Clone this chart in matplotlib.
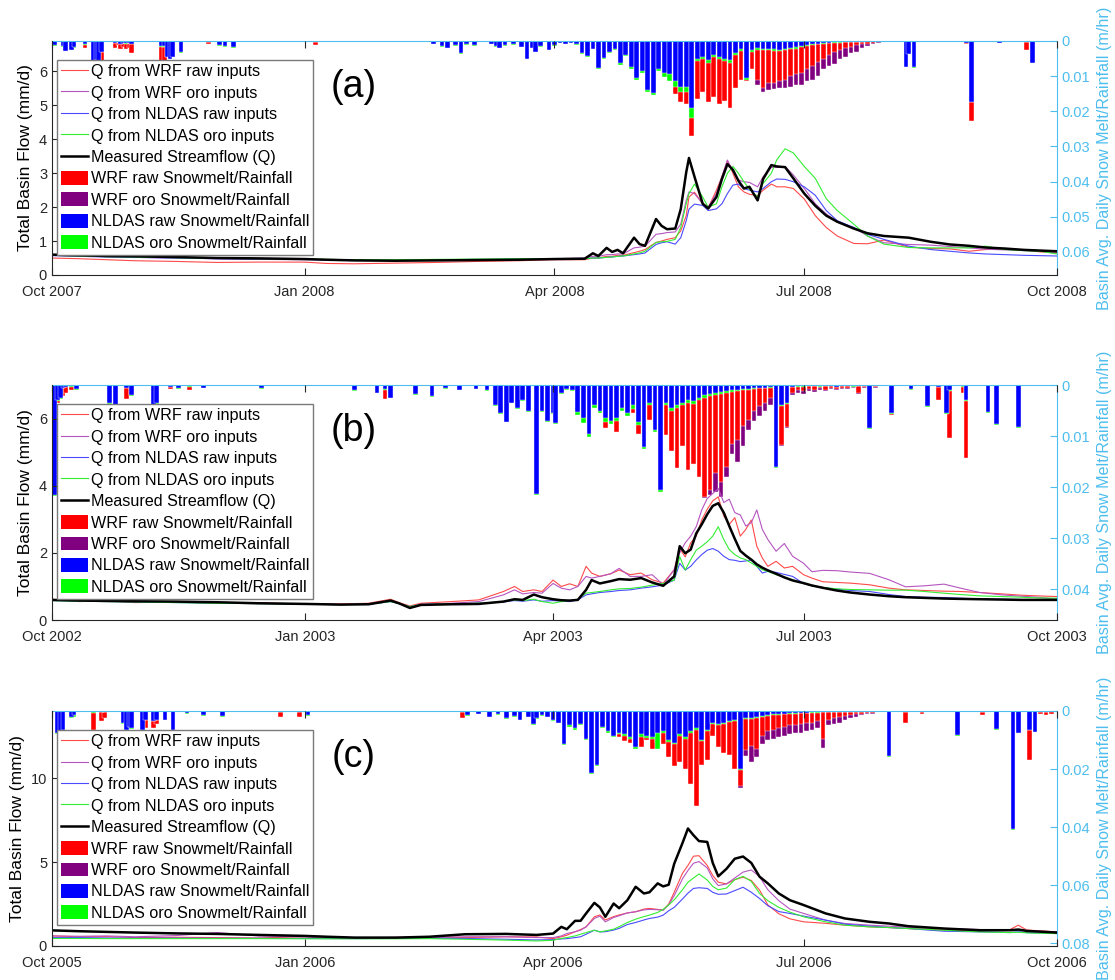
import matplotlib
matplotlib.use("Agg")
import matplotlib.pyplot as plt
import matplotlib.dates as mdates
import pandas as pd
from matplotlib.lines import Line2D
from matplotlib.patches import Patch

plt.rcParams['font.family'] = ['Liberation Sans', 'DejaVu Sans']

# ---------------- streamflow (mm/d), days counted from 1 Oct ----------------
q_days_a = [0, 10, 20, 30, 45, 60, 75, 92, 100, 110, 125, 140, 155, 170, 183, 194, 197, 199, 202, 204,
            206, 208, 212, 214, 216, 220, 222, 224, 227, 229, 231, 232, 234, 237, 239, 242, 244, 246, 248, 250,
            252, 254, 257, 259, 262, 264, 267, 270, 274, 278, 282, 286, 292, 297, 303, 312, 320, 327, 334, 340,
            347, 354, 360, 366]
q_meas_a = [0.6, 0.58, 0.56, 0.55, 0.53, 0.5, 0.49, 0.47, 0.45, 0.43, 0.42, 0.43, 0.44, 0.45, 0.47, 0.48, 0.64, 0.56, 0.8, 0.68,
            0.74, 0.64, 1.1, 0.91, 0.86, 1.65, 1.45, 1.35, 1.37, 1.94, 3.03, 3.45, 2.9, 2.1, 1.96, 2.3, 2.83, 3.27, 3.1, 2.78,
            2.55, 2.6, 2.2, 2.83, 3.24, 3.2, 3.18, 2.85, 2.4, 2.04, 1.75, 1.57, 1.37, 1.23, 1.15, 1.1, 0.98, 0.9, 0.86, 0.81,
            0.78, 0.74, 0.72, 0.7]
q_wrf_raw_a = [0.5, 0.48, 0.45, 0.42, 0.4, 0.37, 0.38, 0.38, 0.34, 0.33, 0.35, 0.37, 0.4, 0.42, 0.45, 0.45, 0.5, 0.5, 0.55, 0.55,
               0.58, 0.58, 0.66, 0.7, 0.75, 0.96, 1.0, 1.05, 1.1, 1.3, 1.75, 2.3, 2.44, 2.1, 1.98, 2.5, 2.9, 3.37, 3.0, 2.6,
               2.45, 2.38, 2.34, 2.5, 2.68, 2.6, 2.6, 2.55, 2.24, 1.75, 1.4, 1.15, 0.93, 0.92, 1.03, 0.82, 0.78, 0.77, 0.7, 0.75,
               0.76, 0.74, 0.68, 0.66]
q_wrf_oro_a = [0.58, 0.56, 0.54, 0.52, 0.5, 0.48, 0.46, 0.45, 0.44, 0.43, 0.43, 0.44, 0.45, 0.46, 0.48, 0.5, 0.55, 0.55, 0.6, 0.6,
               0.62, 0.62, 0.8, 0.82, 0.85, 1.2, 1.22, 1.25, 1.27, 1.5, 2.2, 2.45, 2.4, 2.1, 2.0, 2.4, 2.9, 3.39, 3.05, 2.8,
               2.75, 2.73, 2.6, 2.9, 3.17, 3.17, 3.2, 2.95, 2.55, 2.1, 1.8, 1.57, 1.4, 1.15, 0.95, 0.9, 0.88, 0.84, 0.8, 0.76,
               0.74, 0.72, 0.7, 0.64]
q_nldas_raw_a = [0.57, 0.55, 0.53, 0.52, 0.5, 0.48, 0.47, 0.46, 0.45, 0.44, 0.44, 0.45, 0.46, 0.47, 0.48, 0.48, 0.5, 0.5, 0.52, 0.53,
                 0.55, 0.56, 0.6, 0.62, 0.65, 0.9, 0.95, 0.98, 0.91, 1.1, 1.6, 1.94, 2.09, 2.05, 1.9, 1.95, 2.1, 2.4, 2.65, 2.68,
                 2.55, 2.5, 2.45, 2.55, 2.75, 2.83, 2.82, 2.75, 2.6, 2.35, 1.9, 1.6, 1.4, 1.2, 1.05, 0.85, 0.75, 0.7, 0.65, 0.62,
                 0.6, 0.58, 0.57, 0.56]
q_nldas_oro_a = [0.58, 0.56, 0.54, 0.53, 0.51, 0.49, 0.48, 0.47, 0.46, 0.45, 0.45, 0.46, 0.47, 0.48, 0.48, 0.48, 0.5, 0.5, 0.52, 0.53,
                 0.55, 0.56, 0.62, 0.65, 0.7, 0.96, 0.98, 0.99, 1.05, 1.4, 2.1, 2.4, 2.68, 2.3, 2.0, 2.1, 2.6, 3.0, 3.2, 3.0,
                 2.75, 2.53, 2.3, 2.7, 3.0, 3.4, 3.72, 3.6, 3.2, 2.85, 2.25, 1.9, 1.5, 1.15, 0.91, 0.81, 0.8, 0.8, 0.8, 0.85,
                 0.75, 0.72, 0.7, 0.62]

q_days_b = [0, 10, 20, 30, 45, 60, 75, 92, 105, 115, 123, 126, 130, 134, 145, 155, 164, 168, 171, 175,
            178, 182, 185, 188, 191, 194, 196, 199, 203, 206, 210, 214, 218, 222, 226, 228, 230, 232, 234, 236,
            238, 240, 242, 244, 246, 248, 250, 252, 254, 256, 258, 260, 263, 266, 269, 273, 276, 280, 285, 290,
            297, 304, 310, 317, 324, 330, 337, 345, 352, 358, 365]
q_meas_b = [0.6, 0.58, 0.57, 0.56, 0.55, 0.53, 0.5, 0.48, 0.46, 0.47, 0.58, 0.5, 0.36, 0.45, 0.47, 0.48, 0.55, 0.62, 0.6, 0.76,
            0.68, 0.62, 0.59, 0.58, 0.6, 0.9, 1.19, 1.09, 1.16, 1.22, 1.2, 1.25, 1.12, 1.02, 1.3, 2.2, 1.99, 2.1, 2.58, 2.85,
            3.15, 3.4, 3.48, 3.2, 2.8, 2.42, 2.06, 1.92, 1.8, 1.66, 1.56, 1.48, 1.38, 1.27, 1.18, 1.1, 1.03, 0.96, 0.88, 0.82,
            0.76, 0.71, 0.68, 0.66, 0.64, 0.63, 0.62, 0.61, 0.6, 0.6, 0.6]
q_wrf_raw_b = [0.62, 0.55, 0.58, 0.52, 0.54, 0.5, 0.52, 0.47, 0.48, 0.5, 0.62, 0.52, 0.42, 0.5, 0.55, 0.6, 0.85, 1.0, 0.85, 0.9,
               0.85, 1.19, 1.0, 1.08, 1.0, 1.6, 1.4, 1.3, 1.38, 1.49, 1.35, 1.4, 1.2, 1.1, 1.5, 2.13, 1.88, 2.3, 2.5, 2.98,
               3.3, 3.55, 3.67, 3.1, 2.85, 3.05, 2.5, 2.7, 2.98, 2.2, 1.85, 1.6, 1.75, 1.55, 1.6, 1.35, 1.25, 1.14, 1.12, 1.1,
               1.05, 0.95, 0.9, 0.88, 0.86, 0.85, 0.82, 0.78, 0.74, 0.72, 0.7]
q_wrf_oro_b = [0.6, 0.57, 0.56, 0.54, 0.53, 0.51, 0.5, 0.47, 0.46, 0.48, 0.58, 0.5, 0.38, 0.47, 0.5, 0.55, 0.75, 0.9, 0.78, 0.82,
               0.8, 1.09, 0.95, 0.9, 1.0, 1.3, 1.25, 1.3, 1.38, 1.54, 1.3, 1.3, 1.35, 1.05, 1.5, 2.0, 2.3, 2.5, 2.78, 3.28,
               3.62, 3.77, 3.92, 3.5, 3.6, 3.2, 3.13, 2.8, 2.9, 3.28, 2.7, 2.4, 2.05, 2.28, 1.9, 1.69, 1.44, 1.48, 1.47, 1.43,
               1.39, 1.2, 0.99, 1.02, 1.07, 0.95, 0.82, 0.75, 0.71, 0.68, 0.62]
q_nldas_raw_b = [0.58, 0.56, 0.55, 0.54, 0.52, 0.5, 0.49, 0.47, 0.46, 0.47, 0.55, 0.49, 0.4, 0.46, 0.48, 0.5, 0.54, 0.58, 0.56, 0.6,
                 0.56, 0.58, 0.56, 0.55, 0.6, 0.75, 0.78, 0.82, 0.85, 0.88, 0.9, 0.95, 0.99, 1.04, 1.19, 1.69, 1.49, 1.6, 1.79, 1.95,
                 2.08, 2.13, 2.05, 1.9, 1.8, 1.78, 1.74, 1.76, 1.79, 1.6, 1.4, 1.45, 1.42, 1.36, 1.3, 1.09, 1.02, 0.97, 0.92, 0.88,
                 0.85, 0.76, 0.7, 0.68, 0.67, 0.65, 0.63, 0.62, 0.61, 0.6, 0.6]
q_nldas_oro_b = [0.58, 0.56, 0.55, 0.54, 0.52, 0.5, 0.49, 0.47, 0.46, 0.47, 0.55, 0.49, 0.4, 0.46, 0.48, 0.5, 0.55, 0.6, 0.58, 0.62,
                 0.55, 0.5, 0.55, 0.58, 0.62, 0.8, 0.82, 0.85, 0.9, 0.93, 0.94, 0.98, 1.04, 1.09, 1.19, 1.89, 1.49, 1.8, 2.08, 2.2,
                 2.33, 2.5, 2.78, 2.4, 2.1, 1.95, 1.85, 1.8, 1.7, 1.6, 1.5, 1.45, 1.35, 1.28, 1.2, 1.09, 1.02, 0.97, 0.93, 0.91,
                 0.9, 0.89, 0.89, 0.85, 0.8, 0.76, 0.72, 0.7, 0.68, 0.66, 0.65]

q_days_c = [0, 10, 20, 30, 45, 60, 75, 92, 100, 110, 125, 137, 150, 165, 176, 182, 185, 187, 190, 192,
            194, 197, 199, 201, 204, 206, 209, 212, 215, 217, 220, 222, 224, 226, 229, 231, 233, 235, 238, 240,
            242, 245, 248, 251, 254, 257, 260, 264, 268, 273, 281, 288, 297, 304, 311, 324, 337, 348, 351, 354, 365]
q_meas_c = [0.93, 0.88, 0.84, 0.8, 0.75, 0.72, 0.66, 0.6, 0.55, 0.5, 0.5, 0.55, 0.7, 0.72, 0.66, 0.74, 1.14, 1.0, 1.5, 1.5,
            1.94, 2.57, 2.3, 1.74, 2.53, 2.25, 2.73, 3.53, 3.13, 3.2, 3.73, 3.55, 3.65, 4.9, 6.13, 7.0, 6.6, 6.25, 6.2, 4.95,
            4.15, 4.6, 5.2, 5.33, 4.95, 4.13, 3.73, 3.13, 2.73, 2.44, 1.94, 1.64, 1.44, 1.34, 1.18, 1.04, 0.94, 0.94, 0.98, 0.9, 0.8]
q_wrf_raw_c = [0.6, 0.55, 0.56, 0.5, 0.52, 0.5, 0.48, 0.55, 0.52, 0.45, 0.5, 0.55, 0.5, 0.55, 0.54, 0.44, 0.55, 0.64, 0.85, 0.98,
               1.14, 1.74, 1.85, 1.55, 1.75, 1.85, 1.97, 2.04, 2.2, 2.24, 2.18, 2.14, 2.5, 3.2, 4.33, 4.8, 5.35, 5.38, 4.8, 4.2,
               3.8, 3.7, 3.95, 4.1, 3.9, 3.33, 2.45, 1.92, 1.62, 1.44, 1.35, 1.24, 1.14, 1.1, 1.04, 0.94, 0.9, 0.98, 1.24, 0.95, 0.84]
q_wrf_oro_c = [0.6, 0.58, 0.6, 0.55, 0.62, 0.8, 0.6, 0.55, 0.45, 0.45, 0.52, 0.5, 0.55, 0.55, 0.5, 0.5, 0.6, 0.74, 0.85, 0.94,
               1.14, 1.64, 1.78, 1.44, 1.7, 1.8, 1.97, 2.04, 2.15, 2.18, 2.16, 2.14, 2.45, 3.0, 4.0, 4.5, 4.93, 5.03, 4.65, 4.0,
               3.6, 3.7, 4.05, 4.4, 4.53, 4.13, 3.35, 2.7, 2.2, 1.94, 1.54, 1.34, 1.24, 1.18, 1.12, 1.04, 0.98, 0.95, 0.94, 0.92, 0.84]
q_nldas_raw_c = [0.5, 0.5, 0.48, 0.47, 0.47, 0.46, 0.46, 0.45, 0.44, 0.44, 0.45, 0.46, 0.45, 0.4, 0.36, 0.38, 0.42, 0.44, 0.5, 0.55,
                 0.7, 0.94, 0.84, 0.85, 0.95, 1.05, 1.28, 1.4, 1.55, 1.64, 1.72, 1.84, 2.1, 2.3, 2.8, 3.15, 3.43, 3.47, 3.43, 3.2,
                 3.08, 3.1, 3.3, 3.5, 3.2, 2.83, 2.4, 2.05, 1.94, 1.78, 1.54, 1.3, 1.18, 1.1, 1.04, 0.88, 0.84, 0.8, 0.85, 0.8, 0.74]
q_nldas_oro_c = [0.45, 0.45, 0.44, 0.44, 0.44, 0.44, 0.44, 0.43, 0.43, 0.43, 0.43, 0.44, 0.4, 0.35, 0.3, 0.34, 0.45, 0.5, 0.6, 0.7,
                 0.8, 0.94, 0.84, 0.9, 1.0, 1.15, 1.4, 1.6, 1.75, 1.84, 2.0, 2.18, 2.45, 2.75, 3.35, 3.8, 4.05, 4.29, 3.93, 3.55,
                 3.35, 3.45, 3.95, 4.15, 3.85, 3.13, 2.7, 2.3, 2.02, 1.74, 1.44, 1.24, 1.14, 1.1, 1.04, 0.94, 0.84, 0.8, 0.82, 0.78, 0.74]

# ---------------- basin snowmelt / rainfall (mm/hr), days from 1 Oct ----------------
melt_days_a = ([1, 4, 5, 7, 8, 12, 15, 16, 17, 18, 23, 24, 25, 26, 27, 28, 29, 40, 41, 42, 43, 44, 47, 57, 61,
                63, 66, 96, 139, 142, 144, 147, 149, 151, 154, 160, 162, 163, 165, 168, 171, 173, 175, 176, 178,
                181, 183]
               + list(range(185, 306, 2))
               + [311, 312, 314, 333, 335, 345, 355, 357])
melt_nldas_raw_a = [1.2, 1.5, 2.8, 2.6, 1.8, 1.0, 6.5, 5.5, 6.3, 3.0, .5, .3, .8, .5, .7, .6, .9, 1.5, 1.5, 4.5, 5.0, 4.5, 3.2, .3, 1.2,
                    1.5, 1.8, .2, .8, 1.5, 2.0, 1.2, 3.5, 1.0, 1.2, .8, 1.5, 2.0, 1.2, 1.0, 1.7, 5.0, 2.0, 3.0, 1.5, 2.5, 1.2,
                    .6, .9, .5, 1.0, 3.5, 4.3, 2.2, 7.6, 4.8, 3.0, 2.2, 6.4, 4.0, 7.5, 10.5, 8.5, 14.0, 14.8, 8.0, 9.0,
                    9.5, 11.5, 13.0, 13.0, 19.0, 5.0, 4.5, 5.5, 4.0, 4.5, 5.0, 5.5, 3.5, 2.2, 10.5, 2.5, 2.0, 2.2, 2.3, 2.3,
                    2.5, 2.2, 2.0, 1.8, 1.5, 1.2, 1.0, .8, .6, .5, .4, .3, .3, .2, .2, .2, .1, .1, .1, 0, 0,
                    7.4, 3.6, 7.4, .5, 17.4, .5, .3, 6.2]
melt_nldas_oro_a = [1.3, 1.6, 2.9, 2.7, 1.9, 1.1, 6.6, 5.6, 6.4, 3.1, .6, .4, .9, .6, .8, .7, 1.0, 1.6, 1.6, 4.6, 5.1, 4.6, 3.3, .4, 1.3,
                    1.6, 1.9, .3, .9, 1.6, 2.1, 1.3, 3.7, 1.1, 1.3, .9, 1.6, 2.1, 1.3, 1.1, 1.8, 5.2, 2.1, 3.1, 1.6, 2.6, 1.3,
                    .7, 1.0, .6, 1.1, 3.8, 4.6, 2.4, 8.0, 5.1, 3.3, 2.5, 6.8, 4.4, 8.0, 11.0, 9.0, 14.6, 15.3, 8.6, 10.3,
                    11.5, 13.0, 14.5, 14.5, 21.8, 5.8, 5.0, 6.2, 4.6, 5.2, 5.8, 6.2, 4.0, 2.8, 11.0, 3.0, 2.5, 2.6, 2.7, 2.8,
                    2.9, 2.6, 2.4, 2.2, 1.8, 1.5, 1.2, 1.0, .8, .7, .6, .5, .4, .3, .3, .2, .2, .1, .1, .1, 0,
                    7.5, 3.7, 7.8, .6, 17.5, .6, .4, 6.3]
melt_wrf_raw_a = [0, .3, .5, .6, .4, 2.0, 1.0, .8, 1.5, 6.5, 2.0, 1.2, 2.4, 1.6, 2.2, 2.0, 3.5, 6.0, 6.2, 1.5, 1.0, 1.2, .8, 1.0, .3,
                  .4, .5, 1.2, .2, .3, .4, .3, .6, .2, .2, .1, .3, .3, .2, .2, .3, .8, .4, .5, .3, .5, .3,
                  .2, .3, .2, .4, 1.0, 1.3, .6, 2.5, 1.5, 1.0, .8, 2.0, 1.5, 2.5, 4.0, 3.5, 6.0, 6.5, 4.0, 6.0,
                  8.0, 15.0, 17.5, 17.9, 27.1, 16.5, 14.5, 17.5, 16.0, 18.0, 17.0, 19.0, 13.5, 11.0, 11.5, 8.0, 11.0, 13.5, 12.0, 12.0,
                  11.5, 11.0, 10.0, 9.5, 9.0, 8.0, 7.0, 6.0, 5.0, 4.0, 3.0, 2.5, 2.0, 1.6, 1.2, 1.0, .8, .6, .4, .3, .2,
                  .5, .3, .5, .8, 22.7, .1, 2.5, .5]
melt_wrf_oro_a = [0, .3, .5, .6, .4, 2.0, 1.0, .8, 1.5, 6.5, 2.0, 1.2, 2.4, 1.6, 2.2, 2.0, 3.5, 6.0, 6.2, 1.5, 1.0, 1.2, .8, 1.0, .3,
                  .4, .5, 1.2, .2, .3, .4, .3, .6, .2, .2, .1, .3, .3, .2, .2, .3, .8, .4, .5, .3, .5, .3,
                  .3, .4, .3, .5, 1.2, 1.5, .8, 3.0, 2.0, 1.3, 1.0, 2.5, 2.0, 3.0, 4.5, 4.0, 7.0, 7.5, 5.0, 7.0,
                  9.0, 15.0, 17.5, 17.9, 27.1, 16.5, 14.5, 17.5, 16.0, 18.0, 17.0, 19.0, 13.5, 11.0, 11.5, 8.0, 12.5, 14.5, 14.0, 13.8,
                  13.5, 13.5, 13.0, 12.5, 12.5, 11.5, 11.0, 10.0, 8.0, 7.0, 6.5, 5.0, 4.5, 3.5, 3.0, 2.0, 1.5, 1.0, .6, .4, .3,
                  .5, .3, .5, .8, 22.7, .1, 2.5, .5]

melt_days_b = ([1, 2, 3, 4, 5, 7, 9, 21, 23, 27, 29, 37, 38, 43, 46, 50, 55, 76, 110, 118, 121, 123, 132, 138, 143,
                148, 154, 158, 161, 163, 165, 167, 169, 171, 173, 176, 178, 180, 182, 183]
               + list(range(185, 300, 2))
               + [305, 312, 318, 322, 325, 326, 331, 332, 340, 343, 351])
melt_nldas_raw_b = [21.6, 3.0, 2.5, .5, .3, .2, .8, 3.6, 3.9, .5, 2.0, 3.9, 3.6, .3, .6, .2, .5, .6, 1.0, 1.5, .8, 2.5, 1.8, 2.2, .6,
                    .9, .7, 1.0, 4.0, 5.5, 7.2, 3.5, 4.5, 3.0, 5.0, 21.4, 5.0, 7.0, 5.5, 7.5,
                    1.5, .8, 1.0, 5.2, 6.5, 9.5, 4.0, 5.0, 6.5, 7.0, 6.5, 4.5, 5.5, 4.0, 7.2, 12.1, 3.5, 8.8, 20.6, 3.5,
                    4.5, 4.0, 3.5, 3.0, 3.2, 2.5, 2.0, 1.8, 1.5, 1.3, 1.2, 1.0, .9, .8, .7, .6, .5, .5, .4, 16.0, 4.0, 3.5, .3, .2,
                    .2, .1, .1, .2, .1, .1, .3, .1, .1, .2, .1, .1, 8.5, .1,
                    5.5, .8, 4.2, .3, 5.5, 1.0, .2, 3.0, 5.2, 7.7, 8.2]
melt_nldas_oro_b = [21.8, 3.2, 2.7, .6, .4, .3, .9, 3.7, 4.0, .6, 2.1, 4.0, 3.7, .4, .7, .3, .6, .7, 1.1, 1.6, .9, 2.6, 1.9, 2.3, .7,
                    1.0, .8, 1.1, 4.1, 5.6, 7.3, 3.6, 4.7, 3.1, 5.2, 21.5, 5.2, 7.2, 5.7, 7.7,
                    1.8, 1.0, 1.2, 5.9, 7.5, 10.1, 4.5, 5.5, 7.2, 7.6, 7.0, 5.0, 6.0, 4.6, 7.8, 12.5, 4.0, 9.2, 21.0, 4.0,
                    5.0, 4.5, 4.0, 3.5, 3.7, 3.0, 2.5, 2.2, 1.9, 1.7, 1.5, 1.3, 1.1, 1.0, .9, .8, .6, .6, .5, 16.2, 4.2, 3.8, .4, .3,
                    .3, .2, .2, .3, .2, .2, .4, .2, .2, .3, .2, .2, 8.6, .2,
                    5.6, .9, 4.3, .4, 5.7, 1.1, .3, 3.1, 5.5, 7.8, 8.5]
melt_wrf_raw_b = [2.0, 3.6, 2.8, 2.2, 1.5, 1.0, .3, .5, .5, 2.8, .3, .5, .4, .8, .3, .9, .4, .2, .2, .3, 2.8, 1.0, .2, .3, .1,
                  .1, .1, .2, .5, .6, .8, .4, .5, .4, .6, 1.0, .5, .8, .6, .8,
                  .5, .3, .4, 1.5, 2.0, 3.0, 1.5, 2.0, 8.5, 5.0, 9.2, 3.0, 4.0, 5.5, 9.5, 8.0, 6.9, 6.0, 8.0, 9.8,
                  13.0, 16.3, 12.0, 16.7, 15.4, 18.0, 22.0, 20.5, 17.3, 19.0, 16.0, 11.5, 10.8, 8.0, 6.9, 5.0, 4.2, 3.5, 2.5, 2.0,
                  11.8, 8.2, 1.5, 1.0,
                  1.2, .8, 1.0, .6, .9, .5, .7, .5, .6, .4, 1.5, .3, .5, .4,
                  5.9, .3, .3, 3.0, .5, 10.3, 1.5, 14.2, .3, .3, .3]
melt_wrf_oro_b = [2.0, 3.6, 2.8, 2.2, 1.5, 1.0, .3, .5, .5, 2.8, .3, .5, .4, .8, .3, .9, .4, .2, .2, .3, 2.8, 1.0, .2, .3, .1,
                  .1, .1, .2, .5, .6, .8, .4, .5, .4, .6, 1.0, .5, .8, .6, .8,
                  .6, .4, .5, 2.0, 2.5, 3.5, 2.0, 2.5, 8.5, 5.0, 9.2, 3.0, 4.0, 5.5, 9.5, 8.0, 6.9, 6.0, 8.0, 9.8,
                  13.0, 16.3, 12.0, 16.7, 15.4, 18.0, 22.2, 21.5, 21.0, 21.9, 18.0, 13.5, 15.0, 12.0, 8.8, 7.0, 6.0, 5.0, 4.0, 3.0,
                  12.0, 8.5, 2.0, 1.5,
                  1.8, 1.2, 1.4, .9, 1.2, .8, 1.0, .8, .8, .6, 1.8, .5, .6, .5,
                  5.9, .3, .3, 3.0, .5, 10.3, 1.5, 14.2, .3, .3, .3]

melt_days_c = ([2, 3, 4, 7, 8, 15, 18, 19, 26, 27, 28, 29, 33, 34, 37, 38, 41, 44, 49, 55, 62, 83, 90, 93, 149,
                151, 155, 159, 162, 165, 168, 170, 173, 175, 176]
               + list(range(178, 299, 2))
               + [304, 310, 316, 329, 338, 343, 349, 351, 355, 357, 359, 361, 363])
melt_nldas_raw_c = [7.7, 7.0, 6.5, 2.0, 1.5, .5, .3, .3, 4.3, 6.6, 5.5, 6.0, 6.6, 3.0, 3.5, 3.0, 3.0, 6.6, .8, 1.5, 1.8, .3, .2, 1.5, .3,
                    1.5, 1.0, 2.0, 1.2, 2.5, 1.8, 3.0, 2.0, 4.5, 2.5,
                    1.5, 2.0, 3.0, 4.0, 11.5, 5.0, 6.0, 4.5, 9.7, 21.3, 18.5, 5.5, 7.0, 8.5, 7.5, 8.0, 9.0, 12.5, 8.0, 8.5,
                    9.0, 7.5, 7.0, 10.0, 11.0, 8.0, 9.0, 7.0, 6.0, 10.0, 6.5, 4.0, 4.5, 4.0, 3.5, 3.0, 20.0, 2.5, 2.5, 2.0,
                    1.8, 1.5, 1.2, 1.0, .9, .8, .7, .6, .6, .5, .5, .4, .4, .3, .3, .3, .2, .2, .2, .1, .1,
                    15.6, .3, .2, 8.3, .2, 6.2, 40.6, 7.5, 6.4, 7.3, .2, .2, .1]
melt_nldas_oro_c = [7.8, 7.1, 6.6, 2.3, 2.2, .6, .4, .4, 4.4, 6.7, 5.6, 6.1, 6.7, 3.1, 3.6, 3.1, 3.1, 6.7, .9, 1.6, 1.9, .4, .3, 1.6, .4,
                    1.6, 1.1, 2.1, 1.3, 2.6, 1.9, 3.1, 2.1, 4.7, 2.6,
                    1.7, 2.2, 3.3, 4.3, 11.8, 5.4, 6.5, 5.0, 10.0, 21.6, 18.8, 6.0, 7.5, 9.0, 8.0, 8.5, 9.5, 13.2, 8.8, 9.2,
                    9.6, 13.0, 7.6, 10.6, 11.5, 8.6, 9.5, 7.5, 6.5, 10.5, 7.0, 4.5, 5.0, 4.4, 3.9, 3.4, 20.3, 2.9, 2.8, 2.3,
                    2.1, 1.8, 1.5, 1.3, 1.2, 1.0, .9, .8, .7, .6, .6, .5, .5, .4, .4, .3, .3, .3, .2, .2, .2,
                    15.8, .4, .3, 8.5, .3, 6.4, 41.0, 7.7, 6.5, 7.4, .3, .3, .2]
melt_wrf_raw_c = [.5, .5, .5, .3, .3, 6.6, 3.5, 2.5, .5, .5, .5, .5, 1.0, 6.0, 6.0, 4.5, .3, .3, .3, .2, .2, 2.0, 2.0, .2, 2.5,
                  .2, .1, .2, .2, .3, .2, .3, .3, .4, .3,
                  .3, .4, .6, .8, 2.0, 1.5, 1.8, 1.5, 3.0, 5.0, 6.0, 2.5, 4.0, 7.0, 9.0, 10.5, 11.0, 10.5, 12.5, 10.0,
                  13.2, 11.0, 11.5, 16.0, 19.0, 17.5, 20.0, 25.0, 32.8, 18.5, 17.0, 8.5, 12.5, 14.5, 15.0, 20.0, 26.0, 13.5, 12.0, 13.0,
                  8.5, 7.0, 6.5, 6.0, 5.5, 5.0, 5.0, 4.5, 4.0, 4.0, 3.5, 9.7, 3.0, 2.5, 2.0, 1.8, 1.5, 1.2, 1.0, .8, .6,
                  .3, 4.3, 1.0, .2, 1.5, .3, .5, .3, 17.0, .5, 1.2, 1.5, 1.0]
melt_wrf_oro_c = [.5, .5, .5, .3, .3, 6.6, 3.5, 2.5, .5, .5, .5, .5, 1.0, 6.0, 6.0, 4.5, .3, .3, .3, .2, .2, 2.0, 2.0, .2, 2.5,
                  .2, .1, .2, .2, .3, .2, .3, .3, .4, .3,
                  .4, .5, .8, 1.0, 2.5, 2.0, 2.2, 2.0, 3.0, 5.0, 6.0, 2.5, 4.0, 7.0, 9.0, 10.5, 11.0, 10.5, 12.5, 10.0,
                  13.2, 11.0, 11.5, 16.0, 19.0, 17.5, 20.0, 25.0, 32.8, 18.5, 17.0, 8.5, 12.5, 14.5, 15.0, 20.0, 26.4, 15.5, 17.5, 16.0,
                  11.5, 10.0, 9.5, 9.0, 8.5, 8.0, 7.5, 7.5, 7.0, 6.5, 6.0, 12.6, 5.0, 4.5, 4.0, 3.0, 2.5, 2.0, 1.5, 1.2, 1.0,
                  .3, 4.3, 1.0, .2, 1.5, .3, .5, .3, 17.0, .5, 1.2, 1.5, 1.0]

# ---------------- per-panel axis settings ----------------
water_years = ['2007-10-01', '2002-10-01', '2005-10-01']
panel_tags = ['(a)', '(b)', '(c)']
q_limits = [6.9, 7.0, 14.0]
q_ticks = [[0, 1, 2, 3, 4, 5, 6], [0, 2, 4, 6], [0, 5, 10]]
melt_limits = [0.0666, 0.046, 0.081]
melt_ticks = [[0, 0.01, 0.02, 0.03, 0.04, 0.05, 0.06], [0, 0.01, 0.02, 0.03, 0.04], [0, 0.02, 0.04, 0.06, 0.08]]
# figure-fraction [left, bottom, width, height]
panel_rects = [[0.0466, 0.7194, 0.9013, 0.2388],
               [0.0466, 0.3673, 0.9013, 0.2398],
               [0.0466, 0.0347, 0.9013, 0.2398]]

q_data = [(q_days_a, q_wrf_raw_a, q_wrf_oro_a, q_nldas_raw_a, q_nldas_oro_a, q_meas_a),
          (q_days_b, q_wrf_raw_b, q_wrf_oro_b, q_nldas_raw_b, q_nldas_oro_b, q_meas_b),
          (q_days_c, q_wrf_raw_c, q_wrf_oro_c, q_nldas_raw_c, q_nldas_oro_c, q_meas_c)]
melt_data = [(melt_days_a, melt_wrf_raw_a, melt_wrf_oro_a, melt_nldas_raw_a, melt_nldas_oro_a),
             (melt_days_b, melt_wrf_raw_b, melt_wrf_oro_b, melt_nldas_raw_b, melt_nldas_oro_b),
             (melt_days_c, melt_wrf_raw_c, melt_wrf_oro_c, melt_nldas_raw_c, melt_nldas_oro_c)]

SKY = '#4dbeee'
DARK = '#262626'
line_colors = ['#ff4a4a', '#b555c0', '#4a4aff', '#33ee33', 'black']
line_widths = [0.8, 0.8, 0.8, 0.8, 1.8]
bar_colors = ['#ff0000', '#800080', '#0000ff', '#00ff00']
line_names = ['Q from WRF raw inputs', 'Q from WRF oro inputs', 'Q from NLDAS raw inputs',
              'Q from NLDAS oro inputs', 'Measured Streamflow (Q)']
bar_names = ['WRF raw Snowmelt/Rainfall', 'WRF oro Snowmelt/Rainfall',
             'NLDAS raw Snowmelt/Rainfall', 'NLDAS oro Snowmelt/Rainfall']

fig = plt.figure(figsize=(11.15, 9.8), dpi=100)

for i in range(3):
    start = pd.Timestamp(water_years[i])
    ax = fig.add_axes(panel_rects[i])
    axm = ax.twinx()
    ax.set_zorder(axm.get_zorder() + 1)
    ax.patch.set_visible(False)

    # melt bars hang from the top of the inverted right axis;
    # drawn back to front: WRF oro, WRF raw, NLDAS oro, NLDAS raw
    mdays, m_wr, m_wo, m_nr, m_no = melt_data[i]
    mx = mdates.date2num(start + pd.to_timedelta(mdays, unit='D'))
    for vals, col in [(m_wo, bar_colors[1]), (m_wr, bar_colors[0]),
                      (m_no, bar_colors[3]), (m_nr, bar_colors[2])]:
        axm.bar(mx, [v / 1000.0 for v in vals], width=1.7, color=col,
                edgecolor='white', linewidth=0.3)
    axm.set_ylim(melt_limits[i], 0)
    axm.set_yticks(melt_ticks[i])
    axm.set_yticklabels(['%g' % t for t in melt_ticks[i]])
    axm.tick_params(axis='y', colors=SKY, direction='in', length=5, labelsize=10.5)
    axm.set_ylabel('Basin Avg. Daily Snow Melt/Rainfall (m/hr)', color=SKY, fontsize=11.6, labelpad=5)
    for side in ['left', 'bottom']:
        axm.spines[side].set_visible(False)
    axm.spines['right'].set_color(SKY)
    axm.spines['top'].set_color(SKY)

    # simulated and measured hydrographs
    qdays = q_data[i][0]
    qx = mdates.date2num(start + pd.to_timedelta(qdays, unit='D'))
    for series, col, lw in zip(q_data[i][1:], line_colors, line_widths):
        ax.plot(qx, series, color=col, lw=lw)
    ax.set_ylim(0, q_limits[i])
    ax.set_yticks(q_ticks[i])
    ax.set_xlim(mdates.date2num(start), mdates.date2num(start + pd.DateOffset(years=1)))
    tick_dates = pd.date_range(start, periods=5, freq='3MS')
    ax.set_xticks(mdates.date2num(tick_dates))
    ax.set_xticklabels([d.strftime('%b %Y') for d in tick_dates])
    ax.tick_params(axis='both', colors=DARK, direction='in', length=5, labelsize=10.5, top=True)
    ax.tick_params(axis='x', pad=7)
    ax.set_ylabel('Total Basin Flow (mm/d)', fontsize=12.5, color='black', labelpad=4)
    ax.spines['right'].set_visible(False)
    ax.spines['top'].set_visible(False)
    for side in ['left', 'bottom']:
        ax.spines[side].set_color(DARK)

    handles = [Line2D([], [], color=c, lw=w) for c, w in zip(line_colors, line_widths)]
    handles += [Patch(facecolor=c, edgecolor='none') for c in bar_colors]
    leg = ax.legend(handles, line_names + bar_names, loc='upper left',
                    bbox_to_anchor=(0.005, 0.92), borderaxespad=0, fontsize=11.6,
                    handlelength=1.7, handleheight=0.95, handletextpad=0.15,
                    labelspacing=0.37, borderpad=0.25, fancybox=False, framealpha=1)
    leg.get_frame().set_edgecolor('#7a7a7a')
    leg.get_frame().set_linewidth(1.0)

    ax.text(0.30, 0.805, panel_tags[i], transform=ax.transAxes, fontsize=27,
            ha='center', va='center', color='black')

fig.savefig('out.png', dpi=100)
